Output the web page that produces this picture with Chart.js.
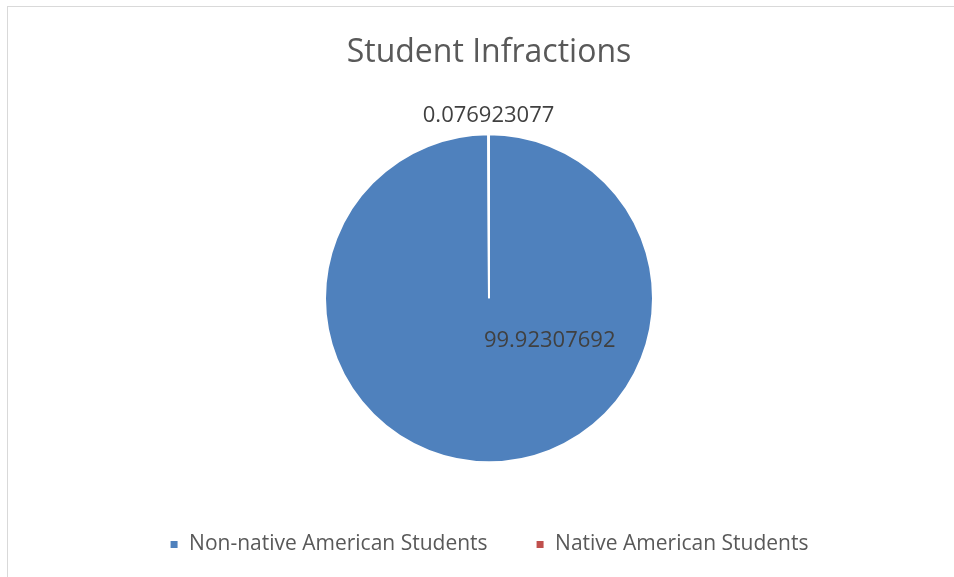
<!DOCTYPE html>
<html>
<head>
<meta charset="utf-8">
<script src="https://cdn.jsdelivr.net/npm/chart.js@4"></script>
<style>
  body { margin: 0; background: #fff; overflow: hidden; }
  #frame { position: absolute; left: 7px; top: 6px; width: 960px; height: 590px; border: 1px solid #d9d9d9; box-sizing: border-box; }
  #wrap { position: absolute; left: 0; top: 0; width: 954px; height: 577px; }
</style>
</head>
<body>
<div id="frame"></div>
<div id="wrap"><canvas id="pie"></canvas></div>
<script>
// datos del grafico
const categories = ['Non-native American Students', 'Native American Students'];
const values = [99.92307692, 0.076923077];
const valueLabels = ['99.92307692', '0.076923077'];
const colors = ['#4F81BD', '#C0504D'];

// etiquetas de datos dibujadas sobre cada sector
const sliceLabels = {
  id: 'sliceLabels',
  afterDatasetsDraw(chart) {
    const ctx = chart.ctx;
    const arcs = chart.getDatasetMeta(0).data;
    ctx.save();
    ctx.font = '22px "Open Sans"';
    ctx.fillStyle = '#404040';
    ctx.textAlign = 'center';
    ctx.textBaseline = 'middle';
    arcs.forEach(function (arc, i) {
      const p = arc.getProps(['x', 'y', 'startAngle', 'endAngle', 'outerRadius'], true);
      let x, y;
      if (i === 1) {
        const mid = (p.startAngle + p.endAngle) / 2;
        x = p.x + Math.cos(mid) * (p.outerRadius + 18);
        y = p.y + Math.sin(mid) * (p.outerRadius + 18);
      } else {
        x = p.x + p.outerRadius * 0.37;
        y = p.y + p.outerRadius * 0.26;
      }
      ctx.fillText(valueLabels[i], x, y);
    });
    ctx.restore();
  }
};

new Chart(document.getElementById('pie'), {
  type: 'pie',
  data: {
    labels: categories,
    datasets: [{
      data: values,
      backgroundColor: colors,
      borderColor: '#ffffff',
      borderWidth: 2,
      radius: 164
    }]
  },
  options: {
    responsive: true,
    maintainAspectRatio: false,
    animation: false,
    layout: { padding: { left: 24, bottom: 12 } },
    plugins: {
      title: {
        display: true,
        text: 'Student Infractions',
        color: '#595959',
        font: { family: 'Open Sans', size: 32, weight: 'normal' },
        padding: { top: 34, bottom: 38 }
      },
      legend: {
        position: 'bottom',
        labels: {
          color: '#595959',
          font: { family: 'Open Sans', size: 21 },
          boxWidth: 9,
          boxHeight: 9,
          padding: 48
        }
      },
      tooltip: { enabled: false }
    }
  },
  plugins: [sliceLabels]
});
</script>
</body>
</html>
